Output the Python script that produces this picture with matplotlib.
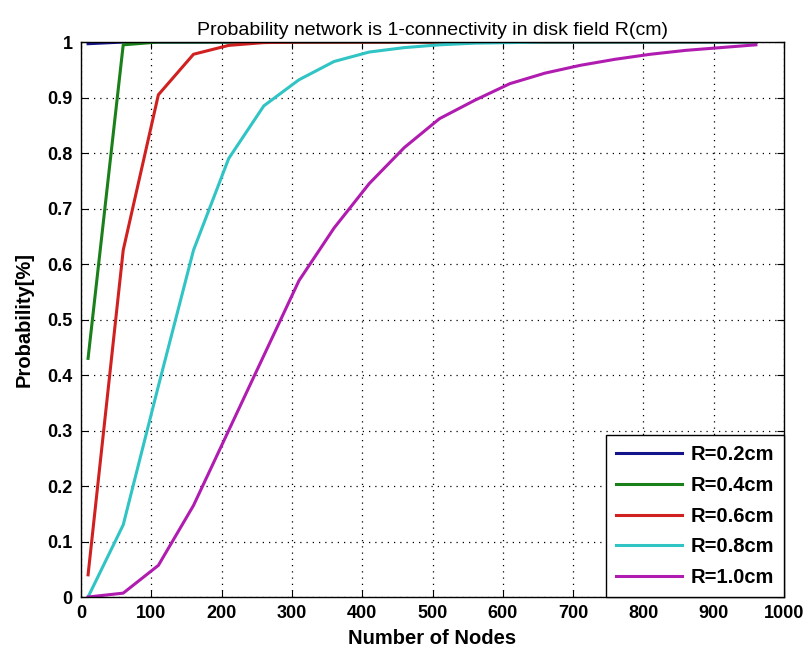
import matplotlib
matplotlib.use("Agg")
import matplotlib.pyplot as plt
from matplotlib import font_manager

nodes = [10, 60, 110, 160, 210, 260, 310, 360, 410, 460, 510, 560, 610, 660, 710, 760, 810, 860, 910, 960]
p_02 = [0.997, 1.0, 1.0, 1.0, 1.0, 1.0, 1.0, 1.0, 1.0, 1.0, 1.0, 1.0, 1.0, 1.0, 1.0, 1.0, 1.0, 1.0, 1.0, 1.0]
p_04 = [0.43, 0.995, 1.0, 1.0, 1.0, 1.0, 1.0, 1.0, 1.0, 1.0, 1.0, 1.0, 1.0, 1.0, 1.0, 1.0, 1.0, 1.0, 1.0, 1.0]
p_06 = [0.04, 0.625, 0.905, 0.978, 0.994, 0.999, 1.0, 1.0, 1.0, 1.0, 1.0, 1.0, 1.0, 1.0, 1.0, 1.0, 1.0, 1.0, 1.0, 1.0]
p_08 = [0.0, 0.13, 0.38, 0.625, 0.79, 0.885, 0.932, 0.965, 0.982, 0.99, 0.995, 0.998, 0.999, 1.0, 1.0, 1.0, 1.0, 1.0, 1.0, 1.0]
p_10 = [0.0, 0.007, 0.057, 0.165, 0.30, 0.435, 0.57, 0.665, 0.745, 0.81, 0.862, 0.895, 0.925, 0.944, 0.958, 0.969, 0.978, 0.985, 0.99, 0.995]
labels = ["R=0.2cm", "R=0.4cm", "R=0.6cm", "R=0.8cm", "R=1.0cm"]
colors = ["#14148a", "#1a801a", "#d02020", "#30c4c4", "#b01cb0"]
series = [p_02, p_04, p_06, p_08, p_10]
xticks = [0, 100, 200, 300, 400, 500, 600, 700, 800, 900, 1000]
yticks = [0, 0.1, 0.2, 0.3, 0.4, 0.5, 0.6, 0.7, 0.8, 0.9, 1.0]
ytick_labels = ["0", "0.1", "0.2", "0.3", "0.4", "0.5", "0.6", "0.7", "0.8", "0.9", "1"]

names = {f.name for f in font_manager.fontManager.ttflist}
if "DejaVu Sans Condensed" in names:
    fam = "DejaVu Sans Condensed"
elif "Liberation Sans Narrow" in names:
    fam = "Liberation Sans Narrow"
else:
    fam = "Liberation Sans"
plt.rcParams['font.family'] = [fam, 'DejaVu Sans']

fig = plt.figure(figsize=(8.12, 6.57), dpi=100)
ax = fig.add_axes([0.0998, 0.0913, 0.8657, 0.8447])

for y, lab, c in zip(series, labels, colors):
    ax.plot(nodes, y, color=c, lw=2.2, label=lab)

ax.set_xlim(0, 1000)
ax.set_ylim(0, 1)
ax.set_xticks(xticks)
ax.set_yticks(yticks)
ax.set_yticklabels(ytick_labels)
ax.grid(True, linestyle=(0, (1, 4)), color='black', linewidth=0.9)
ax.tick_params(direction='in', top=True, right=True, length=5, labelsize=13, width=0.8, pad=6)
for lbl in ax.get_xticklabels() + ax.get_yticklabels():
    lbl.set_fontweight('bold')
for s in ax.spines.values():
    s.set_linewidth(1.0)

ax.set_xlabel("Number of Nodes", fontsize=14.5, fontweight='bold', labelpad=5)
ax.set_ylabel("Probability[%]", fontsize=14.5, fontweight='bold', labelpad=10)
ax.set_title("Probability network is 1-connectivity in disk field R(cm)", fontsize=14, pad=5)

leg = ax.legend(loc='lower right', fontsize=14.5, frameon=True, fancybox=False,
                edgecolor='black', handlelength=3.3, handletextpad=0.4, borderaxespad=0.0,
                labelspacing=0.58, borderpad=0.5, framealpha=1)
leg.get_frame().set_linewidth(1.0)
for t in leg.get_texts():
    t.set_fontweight('bold')

fig.savefig("out.png", dpi=100)
